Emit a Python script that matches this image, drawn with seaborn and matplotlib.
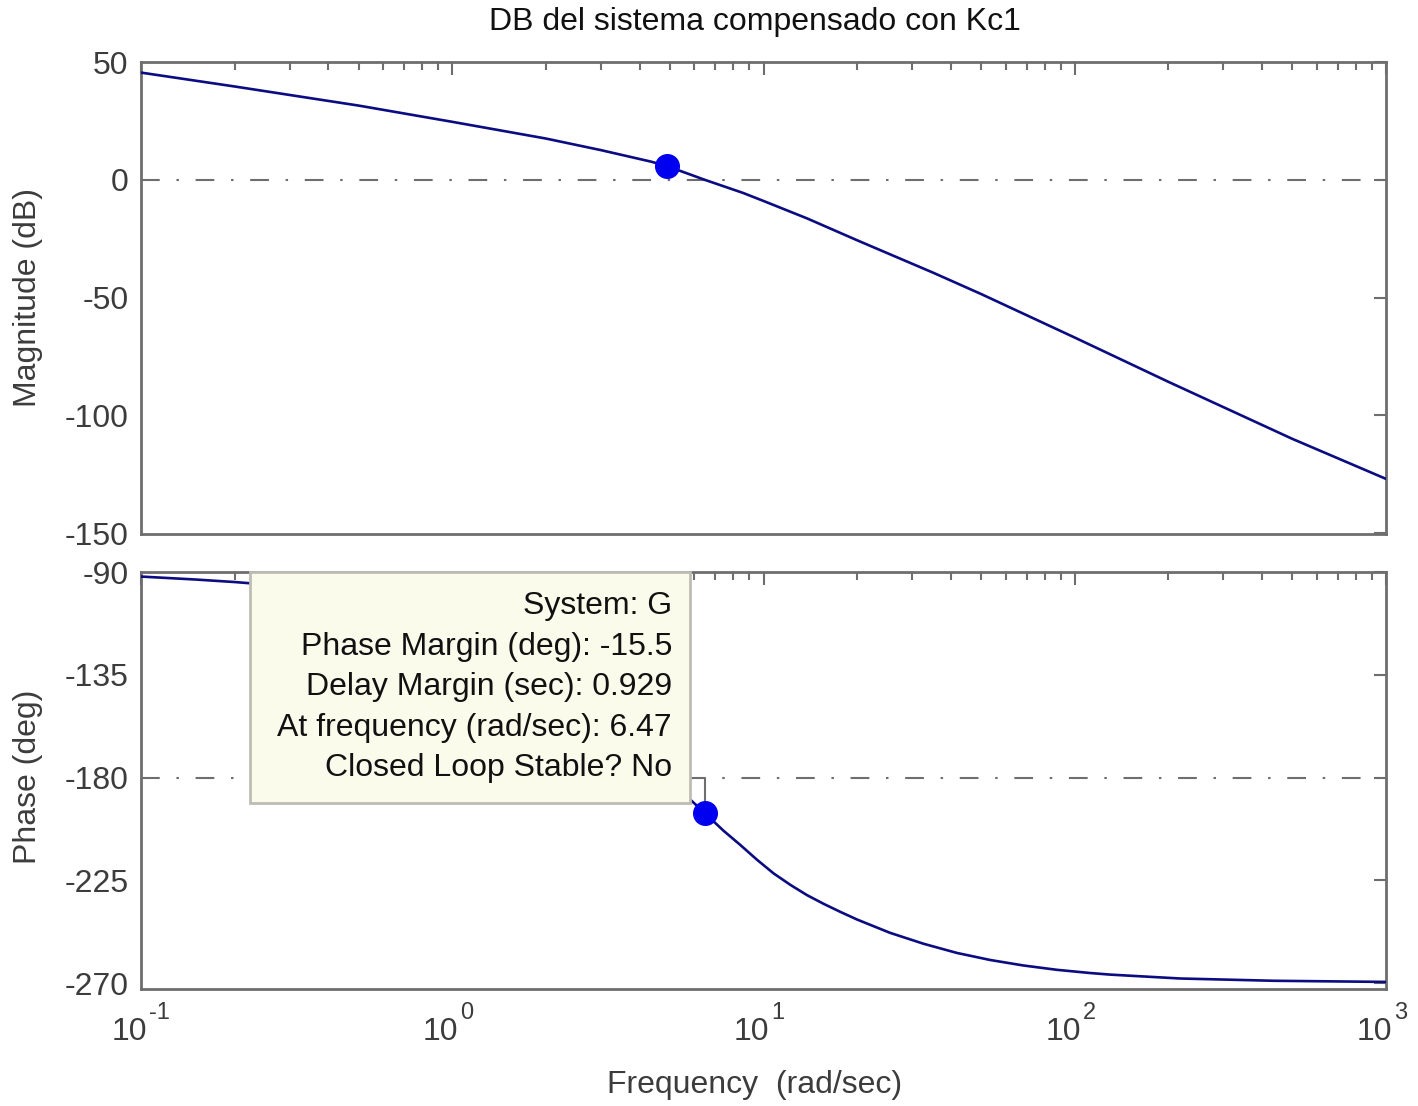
import numpy as np
import pandas as pd
import matplotlib
matplotlib.use("Agg")
import matplotlib.pyplot as plt
import matplotlib.transforms as mtransforms
from matplotlib.patches import Rectangle
from matplotlib.ticker import LogLocator, FixedLocator, NullFormatter
import seaborn as sns

# ---- Bode data of the compensated open loop (rad/sec, dB, deg) ----
mag_freq = [0.1, 0.2, 0.5, 1, 2, 3, 4.35, 4.9, 6.47, 8.6, 10, 13.8, 20, 35, 50,
            100, 200, 500, 1000]
mag_db = [45.5, 39.6, 31.5, 24.6, 17.5, 12.6, 7.7, 5.8, 0.0, -5.6, -9.0, -16.4,
          -25.7, -39.4, -48.5, -67.0, -85.8, -110.0, -127.0]

ph_freq = [0.1, 0.15, 0.2, 0.3, 0.5, 1, 2, 3, 4, 5, 5.8, 6.47, 7.44, 8.42, 9.53,
           10.78, 12.2, 13.8, 15.6, 17.7, 20, 25.5, 32.7, 41.8, 53.5, 68.4, 87.6,
           112, 130, 218, 436, 1000]
ph_deg = [-92.0, -93.3, -94.4, -96.3, -100.0, -111.0, -130.0, -150.0, -167.0,
          -180.0, -189.5, -195.5, -203.3, -209.5, -216.0, -222.0, -227.0, -231.5,
          -235.3, -238.9, -242.2, -248.0, -252.8, -256.8, -259.9, -262.3, -264.2,
          -265.6, -266.3, -268.0, -269.0, -269.5]

# margin markers
mag_mark_freq, mag_mark_db = 4.9, 5.8
pm_freq, pm_deg = 6.47, -195.5
pm_margin, delay_margin = -15.5, 0.929

mag_ticks = [50, 0, -50, -100, -150]
ph_ticks = [-90, -135, -180, -225, -270]
freq_exponents = [-1, 0, 1, 2, 3]

info_lines = [
    "System: G",
    f"Phase Margin (deg): {pm_margin}",
    f"Delay Margin (sec): {delay_margin}",
    f"At frequency (rad/sec): {pm_freq}",
    "Closed Loop Stable? No",
]

sns.set_style("white")
plt.rcParams["font.family"] = ["Liberation Sans", "DejaVu Sans"]

W, H = 1418, 1106
fig = plt.figure(figsize=(W / 100, H / 100), dpi=100)
fig.patch.set_facecolor("white")


def px_rect(l, t, r, b):
    return [l / W, 1 - b / H, (r - l) / W, (b - t) / H]


ax1 = fig.add_axes(px_rect(141, 62, 1386, 534))
ax2 = fig.add_axes(px_rect(141, 572, 1386, 989))

axis_grey = "#6e6e6e"
label_grey = "#3c3c3c"
curve = "#0b0b82"
FS = 23

dash_dot = (0, (9, 8, 1.2, 8))

mag_df = pd.DataFrame({"freq": mag_freq, "db": mag_db})
ph_df = pd.DataFrame({"freq": ph_freq, "deg": ph_deg})

sns.lineplot(data=mag_df, x="freq", y="db", ax=ax1, color=curve, lw=1.9,
             sort=False, estimator=None, zorder=3)
sns.lineplot(data=ph_df, x="freq", y="deg", ax=ax2, color=curve, lw=1.9,
             sort=False, estimator=None, zorder=3)

ax1.axhline(0, color=axis_grey, lw=1.5, ls=dash_dot, zorder=2)
ax2.axhline(-180, color=axis_grey, lw=1.5, ls=dash_dot, zorder=2)

# vertical stem from the phase marker up to the -180 line
ax2.plot([pm_freq, pm_freq], [pm_deg, -180], color=axis_grey, lw=1.5, zorder=2)

ax1.plot([mag_mark_freq], [mag_mark_db], "o", color="#0000f0", ms=17, zorder=5)
ax2.plot([pm_freq], [pm_deg], "o", color="#0000f0", ms=17, zorder=5)

for ax, yt, lim in ((ax1, mag_ticks, (-150.4, 50)), (ax2, ph_ticks, (-272.6, -90))):
    ax.set_xscale("log")
    ax.set_xlim(0.1, 1000)
    ax.set_ylim(*lim)
    ax.yaxis.set_major_locator(FixedLocator(yt))
    ax.set_yticklabels([str(v) for v in yt])
    ax.xaxis.set_major_locator(FixedLocator([10.0 ** e for e in freq_exponents]))
    ax.xaxis.set_minor_locator(LogLocator(base=10, subs=np.arange(2, 10), numticks=20))
    ax.xaxis.set_minor_formatter(NullFormatter())
    ax.set_xticklabels([])
    ax.tick_params(which="both", direction="in", top=True, right=True,
                   color=axis_grey, labelcolor=label_grey, labelsize=FS)
    ax.tick_params(which="major", length=9, width=1.5, pad=9)
    ax.tick_params(which="minor", length=5.5, width=1.5)
    ax.set_xlabel("")
    ax.set_ylabel("")
    for sp in ax.spines.values():
        sp.set_color(axis_grey)
        sp.set_linewidth(2)
        sp.set_visible(True)

# decade labels: base "10" with a raised exponent
base_tr = mtransforms.blended_transform_factory(ax2.transData, fig.transFigure)
for e in freq_exponents:
    x = 10.0 ** e
    t_base = base_tr + mtransforms.ScaledTranslation(6 / 100, 0, fig.dpi_scale_trans)
    ax2.text(x, 1 - 1032 / H, "10", transform=t_base, ha="right", va="center",
             fontsize=FS, color=label_grey, clip_on=False)
    t_exp = base_tr + mtransforms.ScaledTranslation(8 / 100, 0, fig.dpi_scale_trans)
    ax2.text(x, 1 - 1013 / H, str(e), transform=t_exp, ha="left", va="center",
             fontsize=17, color=label_grey, clip_on=False)

# data tip box over the phase axes
ax_h = 989 - 572
box_l, box_r = (250 - 141) / 1245, (690 - 141) / 1245
box_b = (989 - 803) / ax_h
ax2.add_patch(Rectangle((box_l, box_b), box_r - box_l, 1 - box_b,
                        transform=ax2.transAxes, facecolor="#fbfbec",
                        edgecolor="#bdbdb4", lw=2, zorder=6, clip_on=False))
text_x = (672 - 141) / 1245
for i, line in enumerate(info_lines):
    y_px = 606 + i * 40.6
    ax2.text(text_x, (989 - y_px) / ax_h, line, transform=ax2.transAxes,
             ha="right", va="center", fontsize=FS, color="#111111", zorder=7)

fig.text(755 / W, 1 - 22 / H, "DB del sistema compensado con Kc1",
         ha="center", va="center", fontsize=FS, color="#111111")
fig.text(755 / W, 1 - 1085 / H, "Frequency  (rad/sec)",
         ha="center", va="center", fontsize=FS, color=label_grey)
fig.text(28 / W, 1 - 298 / H, "Magnitude (dB)", rotation=90,
         ha="center", va="center", fontsize=FS, color=label_grey)
fig.text(28 / W, 1 - 777 / H, "Phase (deg)", rotation=90,
         ha="center", va="center", fontsize=FS, color=label_grey)

fig.savefig("out.png", dpi=100, facecolor="white")
